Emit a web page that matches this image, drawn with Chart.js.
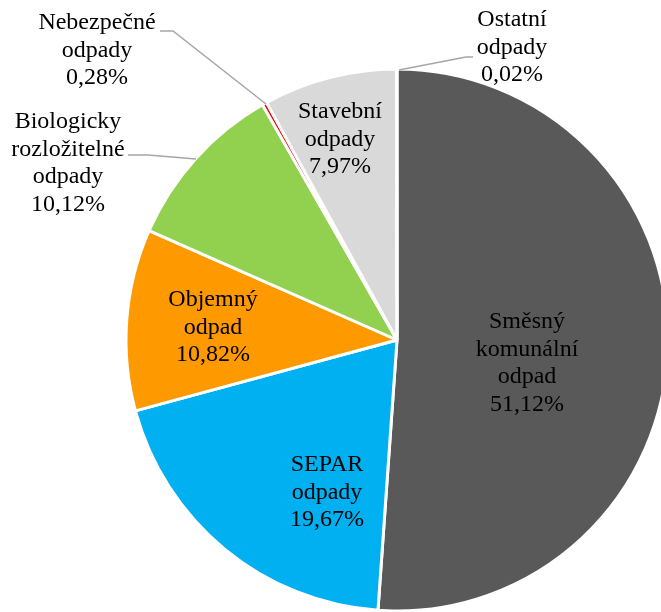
<!DOCTYPE html>
<html>
<head>
<meta charset="utf-8">
<script src="https://cdn.jsdelivr.net/npm/chart.js@4"></script>
<style>
  html, body { margin: 0; padding: 0; background: #fff; }
  #wrap { width: 661px; height: 612px; overflow: hidden; position: relative; }
  #pie { position: absolute; left: 0; top: 0; }
</style>
</head>
<body>
<div id="wrap"><canvas id="pie" width="794" height="680"></canvas></div>
<script>
// categories and values (percent), clockwise from 12 o'clock
const categories = ['Směsný komunální odpad', 'SEPAR odpady', 'Objemný odpad',
  'Biologicky rozložitelné odpady', 'Nebezpečné odpady', 'Stavební odpady', 'Ostatní odpady'];
const values = [51.12, 19.67, 10.82, 10.12, 0.28, 7.97, 0.02];
const labelLines = [
  ['Směsný', 'komunální', 'odpad'],
  ['SEPAR', 'odpady'],
  ['Objemný', 'odpad'],
  ['Biologicky', 'rozložitelné', 'odpady'],
  ['Nebezpečné', 'odpady'],
  ['Stavební', 'odpady'],
  ['Ostatní', 'odpady']
];
const colors = ['#595959', '#00B0F0', '#FF9900', '#92D050', '#FF0000', '#D9D9D9', '#7F7F7F'];

// where each label block sits (center x, first line y) and leader lines for outside labels
const labelPos = [[527, 322], [327, 465], [213, 300], [68, 122], [97, 23], [340, 112], [512, 20]];
const leaders = [null, null, null,
  [[128, 155], [148, 155], [196, 159]],
  [[160, 31], [173, 31], [266, 104]],
  null,
  [[473, 57], [466, 57], [399, 70]]];

const fmt = v => v.toFixed(2).replace('.', ',') + '%';

Chart.defaults.font.family = '"Liberation Serif"';

const labelPlugin = {
  id: 'pieLabels',
  afterDraw(chart) {
    const ctx = chart.ctx;
    ctx.save();
    ctx.strokeStyle = '#A6A6A6';
    ctx.lineWidth = 1.5;
    leaders.forEach(pts => {
      if (!pts) return;
      ctx.beginPath();
      ctx.moveTo(pts[0][0], pts[0][1]);
      for (let i = 1; i < pts.length; i++) ctx.lineTo(pts[i][0], pts[i][1]);
      ctx.stroke();
    });
    ctx.font = 'normal 24px "Liberation Serif"';
    ctx.fillStyle = '#000';
    ctx.textAlign = 'center';
    ctx.textBaseline = 'middle';
    values.forEach((v, i) => {
      const lines = labelLines[i].concat([fmt(v)]);
      const [x, y] = labelPos[i];
      lines.forEach((t, j) => ctx.fillText(t, x, y + j * 27.5));
    });
    ctx.restore();
  }
};

new Chart(document.getElementById('pie'), {
  type: 'pie',
  data: {
    labels: categories,
    datasets: [{
      data: values,
      backgroundColor: colors,
      borderColor: '#ffffff',
      borderWidth: 3
    }]
  },
  options: {
    responsive: false,
    animation: false,
    radius: 271,
    plugins: {
      legend: { display: false },
      tooltip: { enabled: false }
    }
  },
  plugins: [labelPlugin]
});
</script>
</body>
</html>
